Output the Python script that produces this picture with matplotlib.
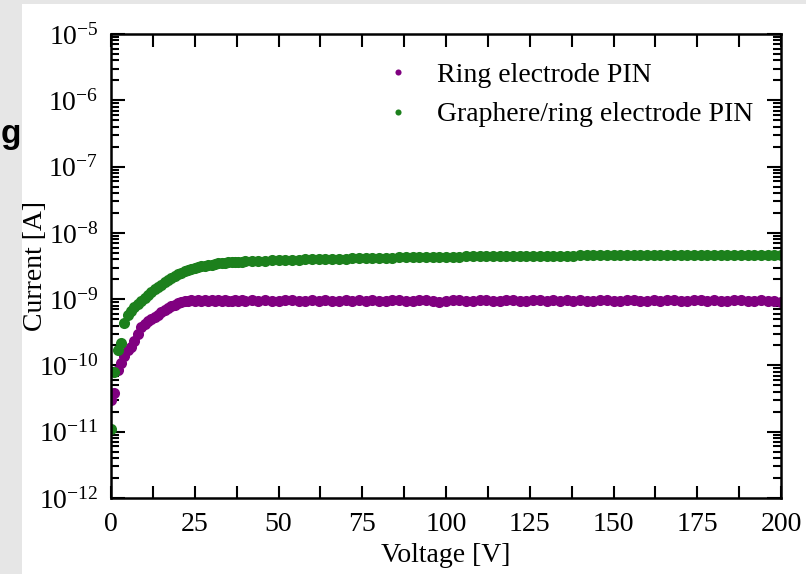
import math
import matplotlib
matplotlib.use('Agg')
import matplotlib.pyplot as plt
import matplotlib.ticker as mticker
from matplotlib.patches import Rectangle

# voltage grid: 1 V steps up to 40 V, then 2 V steps
voltage = list(range(0, 41)) + list(range(42, 201, 2))

# currents, in nA
ring_nA = [
    0.030, 0.038, 0.085, 0.11, 0.14, 0.17, 0.19, 0.23, 0.30, 0.38,
    0.42, 0.46, 0.50, 0.54, 0.58, 0.63, 0.68, 0.73, 0.78, 0.82,
    0.86, 0.90, 0.93, 0.95, 0.96, 0.95, 0.97, 0.94, 0.96, 0.95,
    0.97, 0.93, 0.96, 0.95, 0.98, 0.94, 0.95, 0.97, 0.93, 0.96,
    0.95,
    0.96, 0.94, 0.97, 0.95, 0.93, 0.96, 0.98, 0.95, 0.94, 0.96,
    0.95, 0.97, 0.93, 0.95, 0.96, 0.94, 0.97, 0.95, 0.96, 0.93,
    0.95, 0.97, 0.96, 0.94, 0.95, 0.98, 0.96, 0.94, 0.91, 0.95,
    0.97, 0.96, 0.94, 0.95, 0.97, 0.96, 0.93, 0.95, 0.96, 0.97,
    0.95, 0.94, 0.96, 0.98, 0.95, 0.96, 0.94, 0.97, 0.95, 0.96,
    0.94, 0.95, 0.97, 0.96, 0.95, 0.93, 0.96, 0.97, 0.95, 0.94,
    0.96, 0.95, 0.97, 0.96, 0.94, 0.95, 0.96, 0.97, 0.95, 0.96,
    0.94, 0.95, 0.97, 0.96, 0.95, 0.94, 0.96, 0.95, 0.93, 0.92,
]

graphene_nA = [
    0.011, 0.080, 0.17, 0.22, 0.44, 0.58, 0.66, 0.75, 0.85, 0.95,
    1.05, 1.15, 1.28, 1.40, 1.52, 1.65, 1.80, 1.95, 2.10, 2.25,
    2.38, 2.50, 2.62, 2.75, 2.85, 2.95, 3.05, 3.12, 3.20, 3.27,
    3.33, 3.40, 3.45, 3.50, 3.54, 3.58, 3.62, 3.64, 3.67, 3.69,
    3.72,
    3.75, 3.78, 3.80, 3.85, 3.86, 3.88, 3.92, 3.93, 3.97, 3.98,
    4.01, 4.02, 4.05, 4.07, 4.08, 4.12, 4.13, 4.16, 4.17, 4.19,
    4.21, 4.22, 4.25, 4.25, 4.28, 4.30, 4.30, 4.33, 4.34, 4.35,
    4.37, 4.37, 4.40, 4.40, 4.42, 4.43, 4.43, 4.46, 4.46, 4.47,
    4.49, 4.48, 4.51, 4.51, 4.52, 4.54, 4.53, 4.55, 4.55, 4.57,
    4.56, 4.57, 4.58, 4.57, 4.59, 4.60, 4.59, 4.60, 4.61, 4.60,
    4.61, 4.60, 4.62, 4.61, 4.62, 4.61, 4.63, 4.62, 4.62, 4.63,
    4.62, 4.63, 4.64, 4.63, 4.62, 4.64, 4.63, 4.64, 4.63, 4.64,
]

ring = [v * 1e-9 for v in ring_nA]
graphene = [v * 1e-9 for v in graphene_nA]

purple = '#800080'
green = '#1c801c'
serif = ['Liberation Serif', 'DejaVu Serif']

plt.rcParams['mathtext.fontset'] = 'custom'
plt.rcParams['mathtext.rm'] = 'Liberation Serif'
plt.rcParams['mathtext.it'] = 'Liberation Serif:italic'

fig = plt.figure(figsize=(8.06, 5.74), dpi=100, facecolor='white')

# grey strips at left and top edge of the panel (kept behind everything)
fig.patches.append(Rectangle((0, 0), 22 / 806, 1, transform=fig.transFigure,
                             facecolor='#e6e6e6', edgecolor='none', zorder=-5))
fig.patches.append(Rectangle((0, 1 - 4 / 574), 1, 4 / 574, transform=fig.transFigure,
                             facecolor='#e6e6e6', edgecolor='none', zorder=-5))
fig.text(1 / 806, 1 - 134 / 574, 'g', fontsize=24, fontweight='bold',
         family=['Liberation Sans', 'DejaVu Sans'], ha='left', va='center')

ax = fig.add_axes([111 / 806, 76 / 574, 670 / 806, 464 / 574])
ax.set_zorder(1)

ax.plot(voltage, ring, 'o', color=purple, markersize=8, markeredgewidth=0,
        label='Ring electrode PIN')
ax.plot(voltage, graphene, 'o', color=green, markersize=8, markeredgewidth=0,
        label='Graphere/ring electrode PIN')

ax.set_yscale('log')
ax.set_xlim(0, 200)
ax.set_ylim(1e-12, 1e-5)

ax.xaxis.set_major_locator(mticker.MultipleLocator(25))
ax.xaxis.set_minor_locator(mticker.MultipleLocator(12.5))
ax.yaxis.set_major_locator(mticker.LogLocator(base=10, numticks=10))
ax.yaxis.set_major_formatter(mticker.FuncFormatter(
    lambda v, pos: r'$\mathregular{10^{%d}}$' % round(math.log10(v))))
ax.yaxis.set_minor_locator(mticker.LogLocator(base=10, subs=range(2, 10), numticks=10))
ax.yaxis.set_minor_formatter(mticker.NullFormatter())

ax.tick_params(which='both', direction='in', top=True, right=True, width=1.5)
ax.tick_params(axis='x', which='both', length=9)
ax.tick_params(axis='y', which='major', length=10)
ax.tick_params(axis='y', which='minor', length=6)
ax.tick_params(axis='x', which='major', labelsize=20, pad=10)
ax.tick_params(axis='y', which='major', labelsize=20, pad=9)

for lab in ax.get_xticklabels() + ax.get_yticklabels():
    lab.set_family(serif)

for sp in ax.spines.values():
    sp.set_linewidth(1.8)

ax.set_xlabel('Voltage [V]', fontsize=20, family=serif)
ax.set_ylabel('Current [A]', fontsize=20, family=serif)
ax.xaxis.set_label_coords(0.5, -(543 - 498) / 464)
ax.yaxis.set_label_coords(-(111 - 35) / 670, 0.5)
ax.yaxis.label.set_va('center')
ax.xaxis.label.set_va('top')

leg = ax.legend(loc='upper right', frameon=False, markerscale=0.55,
                prop={'family': serif, 'size': 20}, handletextpad=0.65,
                handlelength=1.5, borderaxespad=0.3, labelspacing=0.5,
                bbox_to_anchor=(1 - 8 / 670, 1 - 9 / 464))

fig.savefig('out.png', dpi=100, facecolor=fig.get_facecolor())
